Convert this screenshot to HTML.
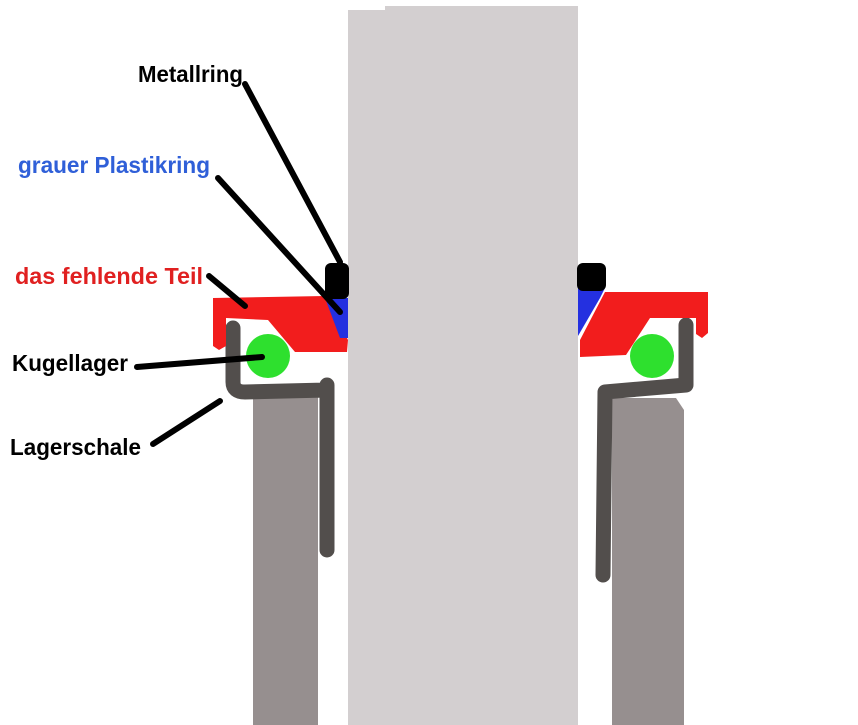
<!DOCTYPE html>
<html><head><meta charset="utf-8"><style>html,body{margin:0;padding:0;background:#fff}svg{display:block}</style></head><body>
<svg width="858" height="725" viewBox="0 0 858 725" xmlns="http://www.w3.org/2000/svg">
<rect width="858" height="725" fill="#fff"/>
<rect x="348" y="10" width="40" height="715" fill="#d3cfd0"/>
<rect x="385" y="6" width="193" height="719" fill="#d3cfd0"/>
<rect x="253" y="395" width="65" height="330" fill="#968f8f"/>
<polygon points="612,398 676,398 684,410 684,725 612,725" fill="#968f8f"/>
<g fill="none" stroke="#524e4c" stroke-width="15" stroke-linecap="round" stroke-linejoin="round">
<path d="M233,328 L233,382 Q233,392 245,392 L327,390 M327,385 L327,550"/>
<path d="M686,325 L686,385 L605,392 L603,575"/>
</g>
<polygon points="213,298 325,296 348,340 347,352 295,352 268,320 226,318 226,346 219,350 213,346" fill="#f21d1d"/>
<polygon points="325,298 348,298 348,338 340,338" fill="#2430e0"/>
<rect x="325" y="263" width="24" height="36" rx="6" fill="#000"/>
<circle cx="268" cy="356" r="22" fill="#2ee02e"/>
<polygon points="605,292 708,292 708,333 702,338 696,334 696,318 650,318 626,355 580,357 580,340" fill="#f21d1d"/>
<polygon points="578,288 605,288 600,298 578,336" fill="#2430e0"/>
<rect x="577" y="263" width="29" height="28" rx="6" fill="#000"/>
<circle cx="652" cy="356" r="22" fill="#2ee02e"/>
<g stroke="#000" stroke-width="6" stroke-linecap="round">
<line x1="245" y1="84" x2="340" y2="262"/>
<line x1="218" y1="178" x2="340" y2="312"/>
<line x1="209" y1="276" x2="245" y2="306"/>
<line x1="137" y1="367" x2="262" y2="357"/>
<line x1="153" y1="444" x2="220" y2="401"/>
</g>
<g font-family="'Liberation Sans', sans-serif" font-weight="bold" font-size="23">
<text x="138" y="82" textLength="105" lengthAdjust="spacingAndGlyphs" fill="#000">Metallring</text>
<text x="18" y="173" textLength="192" lengthAdjust="spacingAndGlyphs" fill="#2f5fd8">grauer Plastikring</text>
<text x="15" y="284" textLength="188" lengthAdjust="spacingAndGlyphs" fill="#e02020">das fehlende Teil</text>
<text x="12" y="371" textLength="116" lengthAdjust="spacingAndGlyphs" fill="#000">Kugellager</text>
<text x="10" y="455" textLength="131" lengthAdjust="spacingAndGlyphs" fill="#000">Lagerschale</text>
</g>
</svg>
</body></html>
